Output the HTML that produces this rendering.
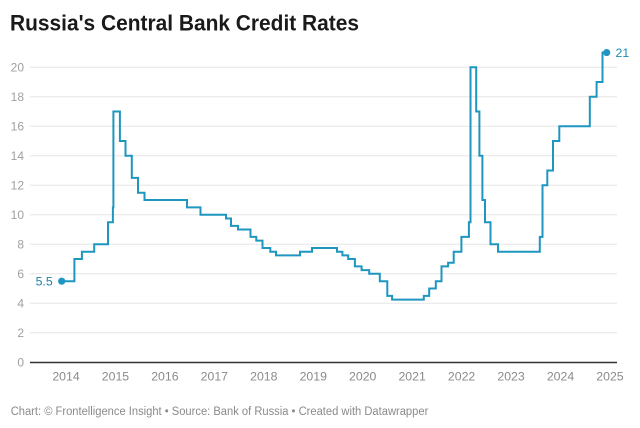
<!DOCTYPE html>
<html>
<head>
<meta charset="utf-8">
<style>
  html, body { margin: 0; padding: 0; background: #ffffff; }
  svg { display: block; }
  text { font-family: "Liberation Sans", Arial, sans-serif; }
</style>
</head>
<body>
<svg width="640" height="428" viewBox="0 0 640 428" xmlns="http://www.w3.org/2000/svg">
  <rect width="640" height="428" fill="#ffffff"/>
  <text x="10" y="30.7" font-size="22" font-weight="bold" fill="#1a1a1a" textLength="349" lengthAdjust="spacingAndGlyphs">Russia's Central Bank Credit Rates</text>

  <!-- gridlines -->
  <g stroke="#e6e6e6" stroke-width="1">
    <line x1="30" x2="617" y1="332.8" y2="332.8"/>
    <line x1="30" x2="617" y1="303.3" y2="303.3"/>
    <line x1="30" x2="617" y1="273.8" y2="273.8"/>
    <line x1="30" x2="617" y1="244.3" y2="244.3"/>
    <line x1="30" x2="617" y1="214.8" y2="214.8"/>
    <line x1="30" x2="617" y1="185.3" y2="185.3"/>
    <line x1="30" x2="617" y1="155.8" y2="155.8"/>
    <line x1="30" x2="617" y1="126.3" y2="126.3"/>
    <line x1="30" x2="617" y1="96.8" y2="96.8"/>
    <line x1="30" x2="617" y1="67.3" y2="67.3"/>
  </g>
  <line x1="30" x2="617" y1="362.5" y2="362.5" stroke="#333333" stroke-width="1.5"/>

  <!-- y labels -->
  <g font-size="12" fill="#a0a0a0" text-anchor="end">
    <text x="24" y="366.6">0</text>
    <text x="24" y="337.1">2</text>
    <text x="24" y="307.6">4</text>
    <text x="24" y="278.1">6</text>
    <text x="24" y="248.6">8</text>
    <text x="24" y="219.1">10</text>
    <text x="24" y="189.6">12</text>
    <text x="24" y="160.1">14</text>
    <text x="24" y="130.6">16</text>
    <text x="24" y="101.1">18</text>
    <text x="24" y="71.6">20</text>
  </g>

  <!-- x labels -->
  <g font-size="12.3" fill="#8a8a8a" text-anchor="middle">
    <text x="66" y="380.6">2014</text>
    <text x="115.45" y="380.6">2015</text>
    <text x="164.9" y="380.6">2016</text>
    <text x="214.35" y="380.6">2017</text>
    <text x="263.8" y="380.6">2018</text>
    <text x="313.25" y="380.6">2019</text>
    <text x="362.7" y="380.6">2020</text>
    <text x="412.15" y="380.6">2021</text>
    <text x="461.6" y="380.6">2022</text>
    <text x="511.05" y="380.6">2023</text>
    <text x="560.5" y="380.6">2024</text>
    <text x="609.95" y="380.6">2025</text>
  </g>

  <!-- series -->
  <path fill="none" stroke="#1f96bf" stroke-width="2" stroke-linejoin="miter"
    d="M61.7,281.2 H74.4 V259.05 H81.9 V251.7 H94.2 V244.3 H108 V222.2 H112.9 V207.4 H113.4 V111.55 H119.9 V141.05 H125.5 V155.8 H131.8 V177.9 H138 V192.7 H144.5 V200.05 H187 V207.4 H200.5 V214.8 H226 V218.5 H231 V225.9 H238 V229.55 H250.5 V236.9 H256.3 V240.6 H262.5 V248 H270.3 V251.7 H276 V255.4 H300 V251.7 H312 V248 H337 V251.7 H342.4 V255.4 H348.2 V259.05 H354.9 V266.4 H361.6 V270.1 H369.2 V273.8 H379.8 V281.2 H387.3 V295.9 H392.1 V299.6 H423.8 V295.9 H429.2 V288.55 H435.8 V281.2 H441.5 V266.4 H448.1 V262.7 H453.7 V251.7 H461.4 V236.9 H468.9 V222.2 H470.5 V67.3 H476.2 V111.55 H479.4 V155.8 H482.4 V200.05 H485 V222.2 H490.5 V244.3 H498 V251.7 H539.8 V236.9 H542.5 V185.3 H547.3 V170.55 H553 V141.05 H559.3 V126.3 H589.8 V96.8 H596.6 V82.05 H602.5 V52.55 H606.7"/>
  <circle cx="61.7" cy="281.2" r="3.6" fill="#1f96bf"/>
  <circle cx="606.7" cy="52.55" r="3.6" fill="#1f96bf"/>
  <text x="52.7" y="285.5" font-size="12.3" fill="#1b7fa3" text-anchor="end">5.5</text>
  <text x="615.5" y="56.8" font-size="12.3" fill="#1b8ab3">21</text>

  <!-- footer -->
  <text x="10.7" y="415" font-size="11.5" fill="#8a8a8a" textLength="417.6" lengthAdjust="spacingAndGlyphs">Chart: © Frontelligence Insight • Source: Bank of Russia • Created with Datawrapper</text>
</svg>
</body>
</html>
